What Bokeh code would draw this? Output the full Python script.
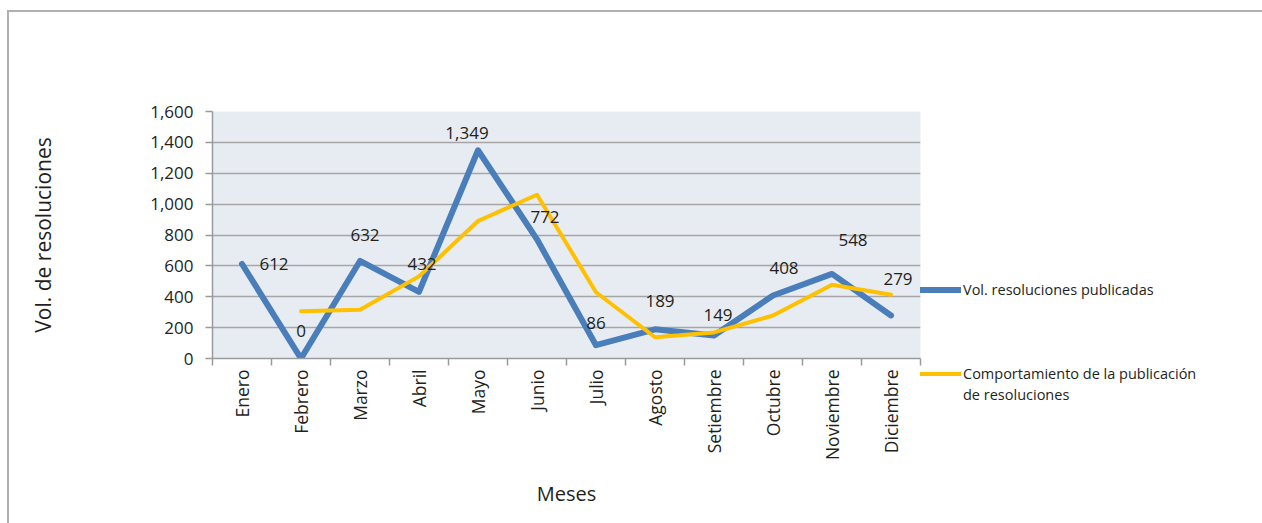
import math
from bokeh.plotting import figure
from bokeh.layouts import row
from bokeh.models import (Range1d, LinearAxis, FixedTicker, NumeralTickFormatter,
                          CustomJSTickFormatter, ColumnDataSource, Legend, LegendItem)
from bokeh.core.properties import value
from bokeh.embed import file_html
from bokeh.resources import INLINE

# ---------------- data ----------------
meses = ["Enero", "Febrero", "Marzo", "Abril", "Mayo", "Junio", "Julio",
         "Agosto", "Setiembre", "Octubre", "Noviembre", "Diciembre"]
vol_publicadas = [612, 0, 632, 432, 1349, 772, 86, 189, 149, 408, 548, 279]
comportamiento = [None, 306, 316, 532, 890.5, 1060.5, 429, 137.5, 169, 278.5, 478, 413.5]
y_ticks = [0, 200, 400, 600, 800, 1000, 1200, 1400, 1600]

serie_1 = "Vol. resoluciones publicadas"
serie_2_l1 = "Comportamiento de la publicación"
serie_2_l2 = "de resoluciones"
titulo_x = "Meses"
titulo_y = "Vol. de resoluciones"

# ---------------- styles ----------------
# label offsets (pixels) relative to each point: x right, y down
label_dx = [32, 0, 5, 3, -11, 8, 0, 5, 4, 11, 21, 7]
label_dy = [0, -28, -26, -28, -17, -22, -22, -28, -20, -28, -34, -36]

BLUE = "#4a7ebb"
YELLOW = "#ffc000"
GRID = "#a6a6a6"
AXIS = "#9a9a9a"
TEXT = "#231f20"
BG = "#e7ebf2"
BORDER = "#b0b0b0"
FONT = "Open Sans"

n = len(meses)
# category slots: each month occupies one unit, centred at i + 0.5
x_cat = [i + 0.5 for i in range(n)]

p = figure(frame_width=708, frame_height=247, x_range=Range1d(0, n), y_range=Range1d(0, 1600),
           output_backend="svg", toolbar_location=None, x_axis_location=None,
           y_axis_location="left")
p.min_border_left = 203
p.min_border_right = 0
p.min_border_top = 99
p.min_border_bottom = 165
p.outline_line_color = None
p.background_fill_color = BG
p.border_fill_color = "white"

# y axis
ya = p.yaxis[0]
ya.ticker = FixedTicker(ticks=y_ticks)
ya.formatter = NumeralTickFormatter(format="0,0")
ya.axis_line_color = AXIS
ya.axis_line_width = 1.5
ya.major_tick_line_color = AXIS
ya.major_tick_line_width = 1.5
ya.major_tick_out = 7
ya.major_tick_in = 0
ya.minor_tick_line_color = None
ya.major_label_standoff = 12
ya.major_label_text_font = FONT
ya.major_label_text_font_size = "17px"
ya.major_label_text_color = TEXT
ya.axis_label = titulo_y
ya.axis_label_text_font = FONT
ya.axis_label_text_font_size = "21px"
ya.axis_label_text_font_style = "normal"
ya.axis_label_text_color = TEXT
ya.axis_label_standoff = 90

p.ygrid.ticker = FixedTicker(ticks=y_ticks)
p.ygrid.grid_line_color = GRID
p.ygrid.grid_line_width = 1.5
p.xgrid.grid_line_color = None

# x axis: tick marks at category edges
edge_axis = LinearAxis(ticker=FixedTicker(ticks=list(range(n + 1))),
                       formatter=CustomJSTickFormatter(code="return ''"))
edge_axis.axis_line_color = AXIS
edge_axis.axis_line_width = 1.5
edge_axis.major_tick_line_color = AXIS
edge_axis.major_tick_line_width = 1.5
edge_axis.major_tick_out = 7
edge_axis.major_tick_in = 0
edge_axis.minor_tick_line_color = None
edge_axis.major_label_standoff = 0
edge_axis.major_label_text_font_size = "1px"
p.add_layout(edge_axis, "below")

# x axis: month names at category centres
cat_axis = LinearAxis(ticker=FixedTicker(ticks=x_cat),
                      major_label_overrides={x: m for x, m in zip(x_cat, meses)})
cat_axis.axis_line_color = None
cat_axis.major_tick_line_color = None
cat_axis.minor_tick_line_color = None
cat_axis.major_label_orientation = math.pi / 2
cat_axis.major_label_standoff = -2
cat_axis.major_label_text_font = FONT
cat_axis.major_label_text_font_size = "17.5px"
cat_axis.major_label_text_color = TEXT
cat_axis.axis_label = titulo_x
cat_axis.axis_label_text_font = FONT
cat_axis.axis_label_text_font_size = "20px"
cat_axis.axis_label_text_font_style = "normal"
cat_axis.axis_label_text_color = TEXT
cat_axis.axis_label_standoff = 17
p.add_layout(cat_axis, "below")

# series
r_blue = p.line(x=x_cat, y=vol_publicadas, line_color=BLUE, line_width=6,
                line_cap="round", line_join="round")
comp_vals = [float("nan") if v is None else v for v in comportamiento]
r_yellow = p.line(x=x_cat, y=comp_vals, line_color=YELLOW, line_width=4,
                  line_cap="round", line_join="round")
r_blank = p.line(x=[], y=[], line_alpha=0)

labels_src = ColumnDataSource(dict(
    x=x_cat, y=vol_publicadas, t=[f"{v:,}" for v in vol_publicadas],
    dx=label_dx, dy=label_dy))
p.text(x="x", y="y", text="t", x_offset="dx", y_offset="dy", source=labels_src,
       text_align="center", text_baseline="middle", text_font=value(FONT),
       text_font_size="17px", text_color=TEXT)

# ---------------- legend (right side panel) ----------------
blank_rows_top = 8
legend_items = [LegendItem(label=" ", renderers=[r_blank]) for _ in range(blank_rows_top)]
legend_items += [
    LegendItem(label=serie_1, renderers=[r_blue]),
    LegendItem(label=" ", renderers=[r_blank]),
    LegendItem(label=" ", renderers=[r_blank]),
    LegendItem(label=" ", renderers=[r_blank]),
    LegendItem(label=serie_2_l1, renderers=[r_yellow]),
    LegendItem(label=serie_2_l2, renderers=[r_blank]),
]
legend = Legend(items=legend_items, location="top_left")
legend.glyph_width = 41
legend.glyph_height = 21
legend.label_height = 21
legend.label_width = 10
legend.spacing = 0
legend.padding = 32
legend.margin = 0
legend.label_standoff = 2
legend.border_line_color = None
legend.background_fill_alpha = 0
legend.label_text_font = FONT
legend.label_text_font_size = "14.5px"
legend.label_text_color = TEXT
legend.label_text_baseline = "middle"
legend.click_policy = "none"
p.add_layout(legend, "right")

layout = row(p, spacing=0,
             styles={"border-left": f"2px solid {BORDER}", "border-top": f"2px solid {BORDER}",
                     "margin-left": "7px", "margin-top": "10px"})

open("out.html", "w").write(file_html(layout, INLINE))
